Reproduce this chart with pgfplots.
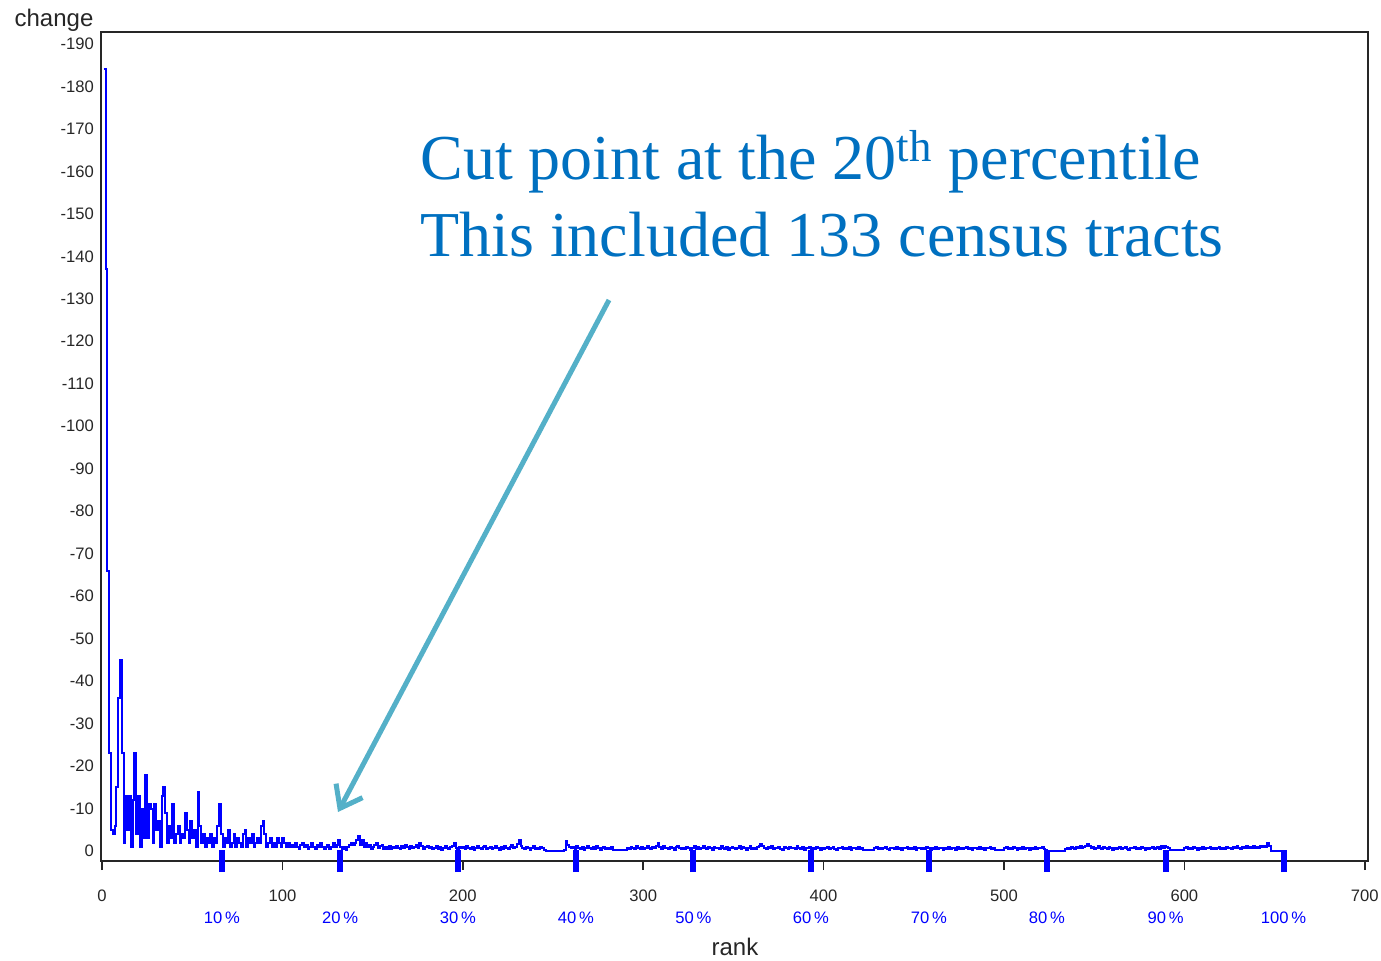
\documentclass[border=0pt]{standalone}
\usepackage{pgfplots}
\pgfplotsset{compat=1.18}
\usepackage{fontspec}
\setmainfont{Liberation Sans}
\newfontfamily\timesfont{Liberation Serif}
\usetikzlibrary{arrows.meta}
\definecolor{annblue}{RGB}{0,112,192}
\definecolor{arrowc}{RGB}{84,176,200}
\begin{document}
\begin{tikzpicture}
\begin{axis}[
  at={(0,0)}, anchor=south west,
  scale only axis, width=633.5pt, height=414.5pt,
  xmin=-0.55, xmax=701.8, ymin=-192.8, ymax=2.35, y dir=reverse,
  axis line style={black!85, line width=0.9pt},
  xtick={0,100,200,300,400,500,600,700},
  xticklabels={0,100,200,300,400,500,600,700},
  xtick pos=bottom, ytick pos=left,
  tick align=outside, major tick length=4.5pt,
  xtick style={black!85, line width=0.8pt},
  ytick={-190,-180,-170,-160,-150,-140,-130,-120,-110,-100,-90,-80,-70,-60,-50,-40,-30,-20,-10,0},
  yticklabels={-190,-180,-170,-160,-150,-140,-130,-120,-110,-100,-90,-80,-70,-60,-50,-40,-30,-20,-10,0},
  ytick style={draw=none},
  /pgf/number format/assume math mode=true,
  tick label style={font=\fontsize{8.3}{9}\selectfont, text=black!85},
  xticklabel style={anchor=center, yshift=-13pt},
  yticklabel style={xshift=4.5pt},
  extra x ticks={66.5,132,197.3,262.7,327.8,393,458.4,523.8,589.6,655},
  extra x tick labels={10\,\%,20\,\%,30\,\%,40\,\%,50\,\%,60\,\%,70\,\%,80\,\%,90\,\%,100\,\%},
  extra x tick style={tick align=center, major tick length=11pt,
    xtick style={blue, line width=3pt},
    xticklabel style={text=blue, yshift=-10pt}},
]
\addplot[blue, line width=1pt, const plot, line join=miter] table[x expr=\coordindex+1, y=v, row sep=\\] {
v\\
-184\\ -137\\ -66\\ -23\\ -5\\ -4\\ -6\\ -15\\ -36\\ -45\\ -23\\ -2\\ -13\\ -5\\ -13\\ -1\\ -12\\ -23\\ -4\\ -13\\
-1\\ -10\\ -3\\ -18\\ -3\\ -11\\ -10\\ -2\\ -11\\ -5\\ -7\\ -1\\ -13\\ -15\\ -9\\ -2\\ -6\\ -3\\ -11\\ -2\\
-4\\ -6\\ -2\\ -4\\ -3\\ -9\\ -5\\ -2\\ -7\\ -3\\ -5\\ -1\\ -14\\ -6\\ -2\\ -4\\ -1\\ -3\\ -2\\ -4\\
-1\\ -3\\ -2\\ -6\\ -11\\ -4\\ -1\\ -3\\ -2\\ -5\\ -1\\ -2\\ -4\\ -1\\ -3\\ -2\\ -1\\ -4\\ -5\\ -1\\
-3\\ -2\\ -4\\ -1\\ -2\\ -3\\ -2\\ -6\\ -7\\ -4\\ -1\\ -2\\ -3\\ -1\\ -2\\ -1\\ -3\\ -2\\ -1\\ -3\\
-2\\ -1\\ -2\\ -1\\ -1.5\\ -1\\ -2\\ -1\\ -0.5\\ -1.5\\ -2\\ -1\\ -1.5\\ -0.5\\ -1\\ -2\\ -1\\ -0.5\\ -1.5\\ -1\\
-2\\ -1\\ -0.5\\ -1\\ -1.5\\ -0.5\\ -1\\ -2\\ -1\\ -1.5\\ -2.5\\ -1\\ -0.5\\ -1\\ -0.3\\ -1\\ -1.5\\ -2\\ -1.5\\ -2\\
-2.5\\ -3.5\\ -1.5\\ -2.5\\ -1\\ -2\\ -1\\ -1.5\\ -0.5\\ -1\\ -1.5\\ -2\\ -0.8\\ -1.2\\ -1.5\\ -0.5\\ -1\\ -0.5\\ -1.2\\ -0.5\\
-1\\ -0.6\\ -1.3\\ -0.8\\ -0.4\\ -1.1\\ -0.7\\ -1.5\\ -0.9\\ -0.5\\ -1.2\\ -0.6\\ -1\\ -1.4\\ -0.7\\ -2\\ -1.1\\ -0.5\\ -0.9\\ -1.3\\
-0.6\\ -1\\ -0.4\\ -0.8\\ -1.2\\ -0.5\\ -0.9\\ -0.3\\ -0.7\\ -1.1\\ -0.6\\ -0.4\\ -1\\ -1.3\\ -1.8\\ -0.8\\ -0.5\\ -1\\ -0.6\\ -0.9\\
-0.4\\ -1.2\\ -0.7\\ -0.5\\ -1\\ -0.3\\ -0.8\\ -1.1\\ -0.6\\ -0.4\\ -0.9\\ -1.3\\ -0.5\\ -0.7\\ -1\\ -0.4\\ -0.8\\ -1.2\\ -0.6\\ -0.3\\
-0.9\\ -0.5\\ -1.1\\ -0.7\\ -0.4\\ -1\\ -1.4\\ -0.6\\ -0.9\\ -1.6\\ -2.5\\ -1.2\\ -0.7\\ -0.5\\ -1\\ -0.6\\ -0.3\\ -0.8\\ -1.1\\ -0.5\\
-0.7\\ -0.4\\ -1\\ -0.6\\ -0.3\\ -0.1\\ -0.1\\ -0.1\\ -0.1\\ -0.1\\ -0.1\\ -0.1\\ -0.1\\ -0.1\\ -0.1\\ -0.3\\ -2.4\\ -1.5\\ -1\\ -0.6\\
-0.9\\ -0.4\\ -1.2\\ -0.7\\ -0.5\\ -1\\ -0.3\\ -0.8\\ -1.1\\ -0.6\\ -0.4\\ -0.9\\ -0.5\\ -1.2\\ -0.7\\ -0.3\\ -0.8\\ -1\\ -0.5\\ -0.7\\
-0.4\\ -0.9\\ -0.2\\ -0.2\\ -0.2\\ -0.2\\ -0.2\\ -0.2\\ -0.2\\ -0.3\\ -0.8\\ -0.5\\ -1\\ -0.6\\ -0.4\\ -1.1\\ -0.7\\ -0.5\\ -0.9\\ -0.4\\
-0.8\\ -1.2\\ -0.6\\ -0.4\\ -1\\ -0.7\\ -1.3\\ -1.9\\ -0.9\\ -0.5\\ -1.1\\ -0.6\\ -0.8\\ -0.4\\ -1\\ -0.7\\ -0.3\\ -0.9\\ -1.2\\ -0.6\\
-0.5\\ -0.8\\ -0.4\\ -1\\ -0.6\\ -0.3\\ -0.7\\ -1.1\\ -0.5\\ -0.9\\ -0.4\\ -0.8\\ -1.2\\ -0.6\\ -0.4\\ -0.9\\ -0.7\\ -0.3\\ -1\\ -0.6\\
-0.8\\ -0.4\\ -1.1\\ -0.7\\ -0.5\\ -0.9\\ -0.3\\ -0.8\\ -1\\ -0.6\\ -0.4\\ -0.7\\ -1.2\\ -0.5\\ -0.9\\ -0.6\\ -0.3\\ -0.8\\ -1.1\\ -0.5\\
-0.7\\ -0.4\\ -1\\ -1.2\\ -1.6\\ -1.3\\ -0.8\\ -0.5\\ -0.9\\ -0.6\\ -1.1\\ -0.4\\ -0.8\\ -0.6\\ -1\\ -0.5\\ -0.3\\ -0.9\\ -0.7\\ -0.4\\
-1\\ -0.6\\ -0.8\\ -0.4\\ -1.1\\ -0.7\\ -0.5\\ -0.9\\ -0.3\\ -0.8\\ -0.6\\ -1\\ -0.5\\ -0.7\\ -0.4\\ -0.9\\ -0.6\\ -0.3\\ -0.8\\ -0.5\\
-0.7\\ -1\\ -0.4\\ -0.6\\ -0.9\\ -0.5\\ -0.3\\ -0.8\\ -0.6\\ -1\\ -0.4\\ -0.7\\ -0.5\\ -0.9\\ -0.3\\ -0.6\\ -0.8\\ -0.4\\ -1\\ -0.5\\
-0.7\\ -0.3\\ -0.3\\ -0.3\\ -0.3\\ -0.3\\ -0.3\\ -0.6\\ -0.9\\ -0.5\\ -0.8\\ -0.4\\ -0.7\\ -1\\ -0.5\\ -0.3\\ -0.8\\ -0.6\\ -0.4\\ -0.9\\
-0.5\\ -0.7\\ -0.3\\ -0.8\\ -0.6\\ -1\\ -0.4\\ -0.7\\ -0.5\\ -0.9\\ -0.3\\ -0.6\\ -0.8\\ -0.4\\ -0.7\\ -0.5\\ -1\\ -0.6\\ -0.3\\ -0.8\\
-0.5\\ -0.9\\ -0.4\\ -0.7\\ -0.6\\ -0.3\\ -0.8\\ -0.5\\ -1\\ -0.4\\ -0.7\\ -0.6\\ -0.3\\ -0.9\\ -0.5\\ -0.8\\ -0.4\\ -0.6\\ -1\\ -0.5\\
-0.7\\ -0.3\\ -0.8\\ -0.6\\ -0.4\\ -0.9\\ -0.5\\ -0.7\\ -0.3\\ -0.8\\ -0.6\\ -1\\ -0.4\\ -0.7\\ -0.2\\ -0.2\\ -0.2\\ -0.2\\ -0.2\\ -0.6\\
-0.9\\ -0.5\\ -0.7\\ -0.4\\ -1\\ -0.6\\ -0.3\\ -0.8\\ -0.5\\ -0.9\\ -0.4\\ -0.7\\ -0.6\\ -0.3\\ -0.8\\ -0.5\\ -1\\ -0.4\\ -0.7\\ -0.6\\
-0.9\\ -0.5\\ -0.3\\ -0.1\\ -0.1\\ -0.1\\ -0.1\\ -0.1\\ -0.1\\ -0.1\\ -0.1\\ -0.1\\ -0.1\\ -0.4\\ -0.8\\ -0.5\\ -1\\ -0.6\\ -0.4\\ -0.9\\
-0.7\\ -1.1\\ -0.6\\ -0.9\\ -1.3\\ -1.6\\ -1.2\\ -0.7\\ -1\\ -0.5\\ -0.8\\ -1.1\\ -0.6\\ -0.4\\ -0.9\\ -0.7\\ -0.5\\ -1\\ -0.6\\ -0.3\\
-0.8\\ -0.5\\ -0.7\\ -1\\ -0.4\\ -0.6\\ -0.9\\ -0.5\\ -0.3\\ -0.8\\ -0.6\\ -1\\ -0.4\\ -0.7\\ -0.5\\ -0.9\\ -0.6\\ -0.3\\ -0.8\\ -0.5\\
-0.7\\ -1\\ -0.4\\ -0.6\\ -0.9\\ -0.5\\ -1.1\\ -0.8\\ -1.3\\ -0.9\\ -0.6\\ -0.2\\ -0.2\\ -0.2\\ -0.2\\ -0.2\\ -0.2\\ -0.2\\ -0.2\\ -0.6\\
-0.9\\ -0.5\\ -0.7\\ -0.4\\ -1\\ -0.6\\ -0.3\\ -0.8\\ -0.5\\ -0.9\\ -0.4\\ -0.7\\ -0.6\\ -1\\ -0.5\\ -0.8\\ -0.4\\ -0.7\\ -0.9\\ -0.5\\
-0.8\\ -0.4\\ -1\\ -0.6\\ -0.7\\ -0.5\\ -0.9\\ -0.6\\ -1.1\\ -0.7\\ -0.5\\ -1\\ -0.8\\ -1.2\\ -0.6\\ -0.9\\ -0.7\\ -1.1\\ -0.8\\ -1\\
-0.7\\ -1.2\\ -0.9\\ -1.3\\ -1\\ -1.8\\ -1.2\\ -0.1\\ -0.1\\ -0.1\\ -0.1\\ -0.1\\ -0.1\\ -0.1\\ -0.1\\
};
\end{axis}
\begin{scope}[shift={(-50.5pt,430.5pt)}, x=0.5pt, y=-0.5pt]
  \node[anchor=base west, text=annblue, inner sep=0pt, font=\timesfont\fontsize{32}{38}\selectfont] at (420,180) {Cut point at the 20\textsuperscript{th} percentile};
  \node[anchor=base west, text=annblue, inner sep=0pt, font=\timesfont\fontsize{32}{38}\selectfont] at (420,257) {This included 133 census tracts};
  \draw[arrowc, line width=2.5pt, -{Straight Barb[length=10pt,width=15pt]}] (609,300) -- (338,812);
  \node[anchor=base, inner sep=0pt, font=\fontsize{12}{14}\selectfont, text=black!85] at (54,27) {change};
  \node[anchor=base, inner sep=0pt, font=\fontsize{12}{14}\selectfont, text=black!85] at (735,955) {rank};
  \pgfresetboundingbox
  \path[use as bounding box] (0,0) rectangle (1381,960);
\end{scope}
\end{tikzpicture}
\end{document}
